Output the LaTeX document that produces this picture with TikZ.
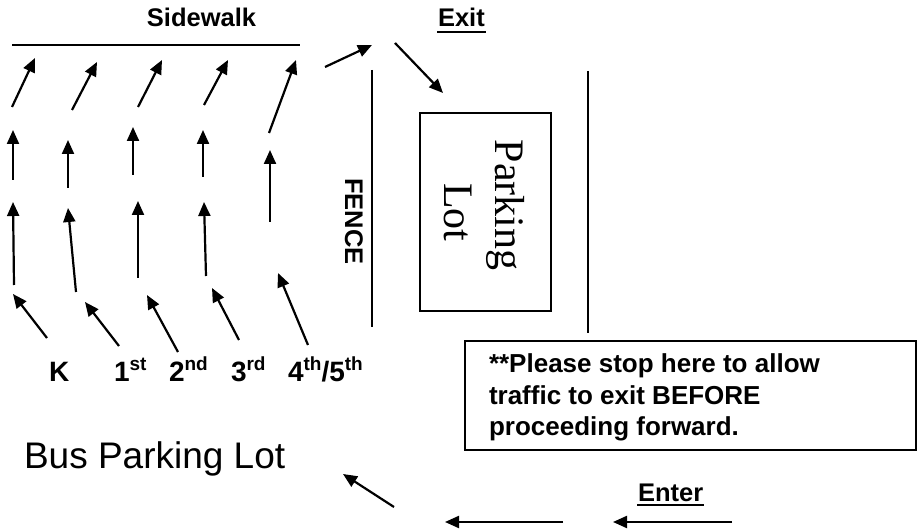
\documentclass[tikz,border=0pt]{standalone}
\usepackage{fontspec}
\setmainfont{Liberation Sans}
\newfontfamily\serifF{Liberation Serif}
\usetikzlibrary{arrows.meta}
\newcommand\mysup[1]{\raisebox{11pt}{\fontsize{19pt}{19pt}\selectfont #1}}
\begin{document}
\begin{tikzpicture}[x=1pt,y=-1pt,line width=2pt,
  arr/.style={line width=2.2pt,-{Triangle[length=14pt,width=12pt]}},
  bt/.style={font=\fontsize{25.5pt}{30pt}\selectfont\bfseries,inner sep=0pt},
  lab/.style={font=\fontsize{28pt}{32pt}\selectfont\bfseries,inner sep=0pt,anchor=base west},
  note/.style={font=\fontsize{26pt}{31pt}\selectfont\bfseries,inner sep=0pt,anchor=base west},
  ulin/.style={line width=2pt}]
\useasboundingbox (0,0) rectangle (922,529);

% titles
\node[bt,anchor=base] (sidewalk) at (201.5,27) {Sidewalk};
\node[bt,anchor=base west] (exit) at (437,27) {Exit};
\draw[ulin] ([yshift=-5pt]exit.base west) -- ([yshift=-5pt]exit.base east);
\node[bt,anchor=base west] (enter) at (637,501) {Enter};
\draw[ulin] ([yshift=-4pt]enter.base west) -- ([yshift=-4pt]enter.base east);

% lines
\draw (12,45) -- (300,45);
\draw (372,70) -- (372,327);
\draw (588,71) -- (588,333);

% fence
\node[bt,anchor=base,rotate=-90] (fence) at (345,221.5) {FENCE};

% parking lot
\draw (420,113) rectangle (551,311);
\node[font=\serifF\fontsize{42pt}{48pt}\selectfont,inner sep=0pt,anchor=base,rotate=-90] (parking) at (495,205) {Parking};
\node[font=\serifF\fontsize{42pt}{48pt}\selectfont,inner sep=0pt,anchor=base,rotate=-90] (lot) at (444,212.5) {Lot};

% arrows grid
\draw[arr] (12,107) -- (35,58);
\draw[arr] (72,110) -- (97,62);
\draw[arr] (138,107) -- (162,60);
\draw[arr] (204,105) -- (228,60);
\draw[arr] (269,133) -- (296,60);

\draw[arr] (13,180) -- (13,130);
\draw[arr] (68,188) -- (68,140);
\draw[arr] (133,175) -- (133,127);
\draw[arr] (203,177) -- (203,130);
\draw[arr] (270,222) -- (270,150);

\draw[arr] (14,285) -- (13,202);
\draw[arr] (76,292) -- (68,208);
\draw[arr] (138,278) -- (138,201);
\draw[arr] (206,276) -- (204,202);

\draw[arr] (47,338) -- (13,294);
\draw[arr] (119,346) -- (85,302);
\draw[arr] (178,352) -- (147,295);
\draw[arr] (239,340) -- (212,288);
\draw[arr] (308,345) -- (278,273);

% exit arrows
\draw[arr] (325,67) -- (372,45);
\draw[arr] (395,43) -- (443,93);

% labels
\node[lab] (k) at (48,382) {K};
\node[lab] (g1) at (113,382) {1\mysup{st}};
\node[lab] (g2) at (168,382) {2\mysup{nd}};
\node[lab] (g3) at (230,382) {3\mysup{rd}};
\node[lab] (g45) at (287,382) {4\mysup{th}/5\mysup{th}};

% bus parking
\node[font=\fontsize{37pt}{42pt}\selectfont,inner sep=0pt,anchor=base west] (bus) at (23,468) {Bus Parking Lot};

% note box
\draw (465,341) rectangle (916,450);
\begin{scope}
\clip (465,341) rectangle (916,441);
\node[note] (n1) at (488,373) {**Please stop here to allow};
\node[note] (n2) at (488,405) {traffic to exit BEFORE};
\node[note] (n3) at (488,436) {proceeding forward.};
\end{scope}

% enter arrows
\draw[arr] (563,522) -- (445,522);
\draw[arr] (732,522) -- (613,522);
\draw[arr] (394,507) -- (343,474);
\end{tikzpicture}
\end{document}
